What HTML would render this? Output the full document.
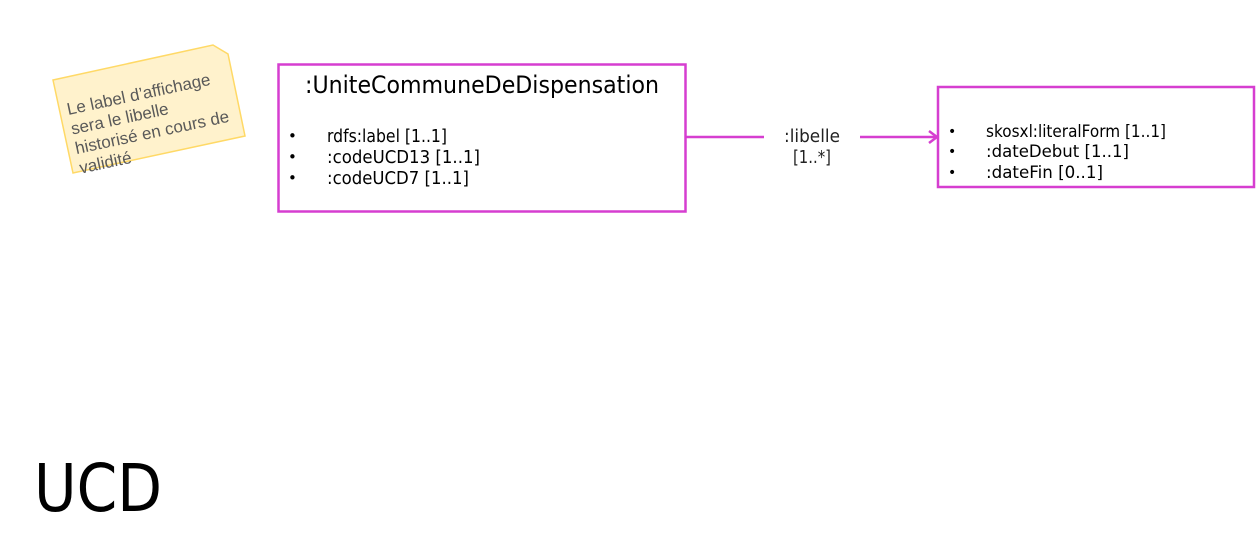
<!DOCTYPE html>
<html><head><meta charset="utf-8"><style>
html,body{margin:0;padding:0;background:#fff;}
svg{display:block;}
text{font-family:"DejaVu Sans","Liberation Sans",sans-serif;fill:#000;}
</style></head><body>
<svg width="1259" height="533" viewBox="0 0 1259 533" xmlns="http://www.w3.org/2000/svg">
<polygon points="53,80 213,45 228,54 245,136 73,173" fill="#fff2cc" stroke="#ffd966" stroke-width="1.5"/>
<g transform="rotate(-12 150 115)">
<text x="70" y="98" style="font-family:'Liberation Sans',sans-serif;font-size:17px;fill:#595959">Le label d’affichage</text>
<text x="70" y="118" style="font-family:'Liberation Sans',sans-serif;font-size:17px;fill:#595959">sera le libelle</text>
<text x="70" y="138" style="font-family:'Liberation Sans',sans-serif;font-size:17px;fill:#595959">historisé en cours de</text>
<text x="70" y="158" style="font-family:'Liberation Sans',sans-serif;font-size:17px;fill:#595959">validité</text>
</g>
<rect x="278.5" y="64.5" width="407" height="147" fill="#fff" stroke="#d63ed0" stroke-width="2.5"/>
<text x="482" y="93" style="font-size:24px" text-anchor="middle" textLength="354" lengthAdjust="spacingAndGlyphs">:UniteCommuneDeDispensation</text>
<text x="288" y="141" style="font-size:15px">•</text>
<text x="288" y="162" style="font-size:15px">•</text>
<text x="288" y="183" style="font-size:15px">•</text>
<text x="327" y="142" style="font-size:18px" textLength="120" lengthAdjust="spacingAndGlyphs">rdfs:label [1..1]</text>
<text x="327" y="163" style="font-size:18px" textLength="153" lengthAdjust="spacingAndGlyphs">:codeUCD13 [1..1]</text>
<text x="327" y="184" style="font-size:18px" textLength="142" lengthAdjust="spacingAndGlyphs">:codeUCD7 [1..1]</text>
<line x1="686" y1="137" x2="764" y2="137" stroke="#d63ed0" stroke-width="2.5"/>
<line x1="860" y1="137" x2="937" y2="137" stroke="#d63ed0" stroke-width="2.5"/>
<polyline points="929,131 937,137 929,143" fill="none" stroke="#d63ed0" stroke-width="2.5"/>
<text x="812" y="142" style="font-size:18px;fill:#222" text-anchor="middle" textLength="56" lengthAdjust="spacingAndGlyphs">:libelle</text>
<text x="812" y="163" style="font-size:18px;fill:#222" text-anchor="middle" textLength="38" lengthAdjust="spacingAndGlyphs">[1..*]</text>
<rect x="938" y="87" width="316" height="100" fill="#fff" stroke="#d63ed0" stroke-width="2.5"/>
<text x="948" y="136" style="font-size:14px">•</text>
<text x="948" y="156" style="font-size:14px">•</text>
<text x="948" y="177" style="font-size:14px">•</text>
<text x="986" y="137" style="font-size:17px" textLength="180" lengthAdjust="spacingAndGlyphs">skosxl:literalForm [1..1]</text>
<text x="986" y="157" style="font-size:17px" textLength="143" lengthAdjust="spacingAndGlyphs">:dateDebut [1..1]</text>
<text x="986" y="178" style="font-size:17px" textLength="117" lengthAdjust="spacingAndGlyphs">:dateFin  [0..1]</text>
<text x="34" y="511" style="font-size:66px" textLength="128" lengthAdjust="spacingAndGlyphs">UCD</text>
</svg>
</body></html>
